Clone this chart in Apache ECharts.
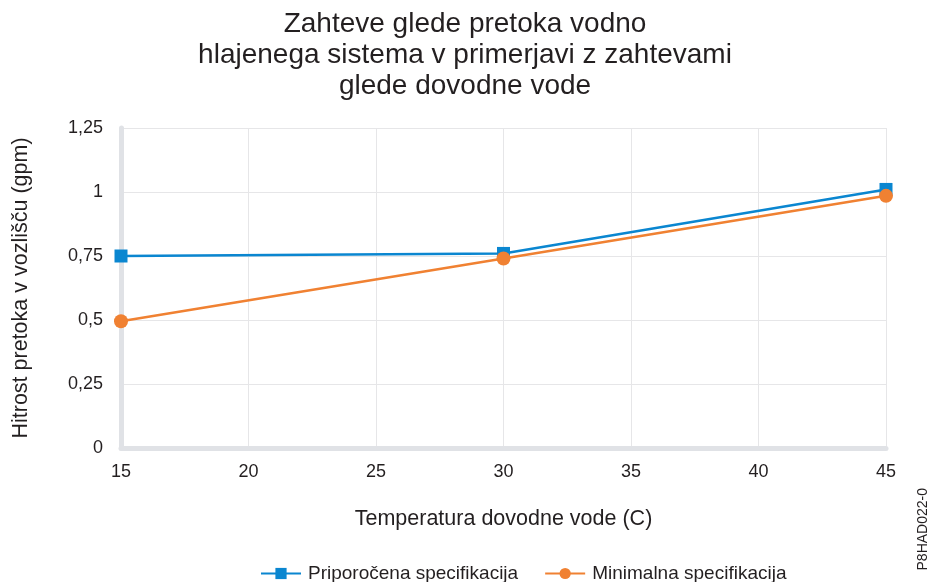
<!DOCTYPE html>
<html>
<head>
<meta charset="utf-8">
<script src="https://cdn.jsdelivr.net/npm/echarts@6/dist/echarts.min.js"></script>
<style>html,body{margin:0;padding:0;background:#fff}#c{width:930px;height:582px}</style>
</head>
<body>
<div id="c"></div>
<script>
var temps = [15, 30, 45];
var recommended = [0.75, 0.76, 1.01];
var minimum = [0.495, 0.74, 0.985];
var seriesNames = ['Priporočena specifikacija', 'Minimalna specifikacija'];
var titleText = 'Zahteve glede pretoka vodno\nhlajenega sistema v primerjavi z zahtevami\nglede dovodne vode';
var xName = 'Temperatura dovodne vode (C)';
var yName = 'Hitrost pretoka v vozlišču (gpm)';
var figId = 'P8HAD022-0';

function pairs(xs, ys){ return xs.map(function(x,i){ return [x, ys[i]]; }); }

var font = 'Liberation Sans, Arial, sans-serif';
var ink = '#231f20';
var chart = echarts.init(document.getElementById('c'), null, {renderer:'canvas'});
chart.setOption({
  animation: false,
  textStyle: {fontFamily: font},
  title: {
    text: titleText, left: 'center', top: 9, padding: 0,
    textStyle: {fontFamily: font, fontSize: 28, fontWeight: 'normal', color: ink, lineHeight: 31}
  },
  graphic: [{
    type: 'text', left: 916, top: 488, rotation: Math.PI/2,
    style: {text: figId, font: '14px ' + font, fill: ink}
  }],
  legend: {
    left: 260, top: 564, padding: 0, itemWidth: 40, itemHeight: 14, itemGap: 26,
    textStyle: {fontFamily: font, fontSize: 19, color: ink, padding: [0,0,0,2]},
    data: seriesNames
  },
  grid: {left: 121, right: 44, top: 128, bottom: 134, containLabel: false, outerBoundsMode: 'none'},
  xAxis: {
    type: 'value', min: 15, max: 45, interval: 5,
    name: xName, nameLocation: 'middle', nameGap: 60,
    nameTextStyle: {fontFamily: font, fontSize: 21.5, color: ink},
    axisLine: {show: true, lineStyle: {color: '#e0e2e6', width: 5}},
    axisTick: {show: false},
    axisLabel: {fontFamily: font, fontSize: 18, color: ink, margin: 15},
    splitLine: {show: true, lineStyle: {color: '#e6e6e8', width: 1}}
  },
  yAxis: {
    type: 'value', min: 0, max: 1.25, interval: 0.25,
    name: yName, nameLocation: 'middle', nameGap: 89,
    nameTextStyle: {fontFamily: font, fontSize: 21.5, color: ink},
    axisLine: {show: true, lineStyle: {color: '#e0e2e6', width: 5}},
    axisTick: {show: false},
    axisLabel: {fontFamily: font, fontSize: 18, color: ink, margin: 18,
      formatter: function(v){ return String(v).replace('.', ','); }},
    splitLine: {show: true, lineStyle: {color: '#e6e6e8', width: 1}}
  },
  series: [{
    name: seriesNames[0], type: 'line', data: pairs(temps, recommended),
    symbol: 'rect', symbolSize: 13, z: 3,
    lineStyle: {color: '#0a86d0', width: 2.5},
    itemStyle: {color: '#0a86d0'}
  }, {
    name: seriesNames[1], type: 'line', data: pairs(temps, minimum),
    symbol: 'circle', symbolSize: 14, z: 4,
    lineStyle: {color: '#f08132', width: 2.5},
    itemStyle: {color: '#f08132'}
  }]
});
</script>
</body>
</html>
